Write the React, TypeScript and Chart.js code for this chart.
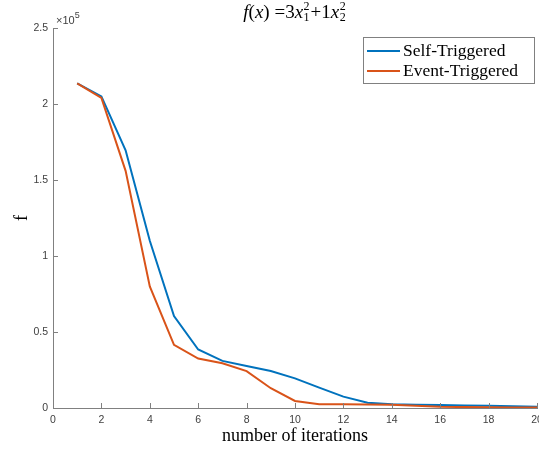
import React, { useEffect, useRef } from "react";
import { Chart, registerables } from "chart.js";

Chart.register(...registerables);

const iterations = [1, 2, 3, 4, 5, 6, 7, 8, 9, 10, 11, 12, 13, 14, 15, 16, 17, 18, 19, 20];
const selfTriggered = [213500, 205000, 169500, 110000, 60500, 38500, 31000, 27600, 24300, 19500, 13400, 7500, 3500, 2400, 2100, 1900, 1700, 1500, 1200, 900];
const eventTriggered = [213500, 204000, 156000, 80000, 41500, 32500, 29400, 24300, 13000, 4600, 2400, 2400, 2300, 2100, 1400, 800, 600, 500, 400, 300];
const xTicks = [0, 2, 4, 6, 8, 10, 12, 14, 16, 18, 20];
const yTicks = [0, 50000, 100000, 150000, 200000, 250000];
const seriesNames = ["Self-Triggered", "Event-Triggered"];
const seriesColors = ["#0072BD", "#D95319"];
const xTitle = "number of iterations";
const yTitle = "f";

const SERIF = '"Liberation Serif", "DejaVu Serif", serif';
const SANS = '"Liberation Sans", Arial, sans-serif';
const AXIS_COLOR = "#808080";
const TEXT_COLOR = "#404040";

type Seg = { t: string; italic?: boolean; sub?: string; sup?: string };

const titleSegs: Seg[] = [
  { t: "f", italic: true },
  { t: "(" },
  { t: "x", italic: true },
  { t: ") =3" },
  { t: "x", italic: true, sub: "1", sup: "2" },
  { t: "+1" },
  { t: "x", italic: true, sub: "2", sup: "2" },
];

function drawTitle(ctx: CanvasRenderingContext2D, cx: number, baseline: number) {
  const size = 19;
  const small = 12;
  const font = (it: boolean, s: number) => `${it ? "italic " : ""}${s}px ${SERIF}`;
  let total = 0;
  for (const s of titleSegs) {
    ctx.font = font(!!s.italic, size);
    total += ctx.measureText(s.t).width;
    if (s.sub || s.sup) {
      ctx.font = font(false, small);
      total += Math.max(ctx.measureText(s.sub || "").width, ctx.measureText(s.sup || "").width) + 1.5;
    }
  }
  let x = cx - total / 2;
  ctx.fillStyle = "#000";
  ctx.textBaseline = "alphabetic";
  ctx.textAlign = "left";
  for (const s of titleSegs) {
    ctx.font = font(!!s.italic, size);
    ctx.fillText(s.t, x, baseline);
    x += ctx.measureText(s.t).width;
    if (s.sub || s.sup) {
      ctx.font = font(false, small);
      if (s.sup) ctx.fillText(s.sup, x + 0.5, baseline - 8);
      if (s.sub) ctx.fillText(s.sub, x + 0.5, baseline + 3);
      x += Math.max(ctx.measureText(s.sub || "").width, ctx.measureText(s.sup || "").width) + 1.5;
    }
  }
}

const decorPlugin = {
  id: "decor",
  afterDraw(chart: any) {
    const ctx: CanvasRenderingContext2D = chart.ctx;
    const { left, right, top, bottom } = chart.chartArea;
    const xs = chart.scales.x;
    const ys = chart.scales.y;
    ctx.save();
    // inward ticks
    ctx.strokeStyle = AXIS_COLOR;
    ctx.lineWidth = 1;
    ctx.beginPath();
    for (const v of xTicks) {
      const px = Math.round(xs.getPixelForValue(v)) + 0.5;
      ctx.moveTo(px, bottom);
      ctx.lineTo(px, bottom - 5);
    }
    for (const v of yTicks) {
      const py = Math.round(ys.getPixelForValue(v)) + 0.5;
      ctx.moveTo(left, py);
      ctx.lineTo(left + 5, py);
    }
    ctx.stroke();

    // exponent label
    ctx.fillStyle = TEXT_COLOR;
    ctx.textAlign = "left";
    ctx.textBaseline = "alphabetic";
    ctx.font = `11px ${SANS}`;
    ctx.fillText("\u00d710", left + 3, top - 4);
    const w = ctx.measureText("\u00d710").width;
    ctx.font = `9px ${SANS}`;
    ctx.fillText("5", left + 3 + w, top - 10);

    // title
    drawTitle(ctx, (left + right) / 2, 18);

    // axis titles
    ctx.fillStyle = "#000";
    ctx.font = `18px ${SERIF}`;
    ctx.textAlign = "center";
    ctx.textBaseline = "alphabetic";
    ctx.fillText(xTitle, (left + right) / 2, 441);
    ctx.save();
    ctx.translate(27, (top + bottom) / 2);
    ctx.rotate(-Math.PI / 2);
    ctx.fillText(yTitle, 0, 0);
    ctx.restore();

    // legend
    const lx = 363, ly = 37, lw = 171, lh = 46;
    ctx.fillStyle = "#fff";
    ctx.fillRect(lx, ly, lw, lh);
    ctx.strokeStyle = AXIS_COLOR;
    ctx.lineWidth = 1;
    ctx.strokeRect(lx + 0.5, ly + 0.5, lw, lh);
    ctx.font = `17.5px ${SERIF}`;
    ctx.textAlign = "left";
    ctx.textBaseline = "middle";
    seriesNames.forEach((name, i) => {
      const cy = ly + 14 + i * 20;
      ctx.strokeStyle = seriesColors[i];
      ctx.lineWidth = 2;
      ctx.beginPath();
      ctx.moveTo(lx + 4, cy);
      ctx.lineTo(lx + 37, cy);
      ctx.stroke();
      ctx.fillStyle = "#000";
      ctx.fillText(name, lx + 40, cy);
    });
    ctx.restore();
  },
};

export default function App() {
  const ref = useRef<HTMLCanvasElement | null>(null);
  useEffect(() => {
    if (!ref.current) return;
    const chart = new Chart(ref.current, {
      type: "line",
      data: {
        datasets: [
          {
            label: seriesNames[0],
            data: iterations.map((x, i) => ({ x, y: selfTriggered[i] })),
            borderColor: seriesColors[0],
            backgroundColor: seriesColors[0],
            borderWidth: 2,
            pointRadius: 0,
            tension: 0,
            order: 1,
          },
          {
            label: seriesNames[1],
            data: iterations.map((x, i) => ({ x, y: eventTriggered[i] })),
            borderColor: seriesColors[1],
            backgroundColor: seriesColors[1],
            borderWidth: 2,
            pointRadius: 0,
            tension: 0,
            order: 0,
          },
        ],
      },
      options: {
        animation: false,
        responsive: false,
        devicePixelRatio: 1,
        layout: { padding: { top: 28, right: 2, left: 0, bottom: 0 } },
        plugins: { legend: { display: false }, tooltip: { enabled: false }, title: { display: false } },
        scales: {
          x: {
            type: "linear",
            min: 0,
            max: 20,
            afterBuildTicks: (s: any) => {
              s.ticks = xTicks.map((v) => ({ value: v }));
            },
            afterFit: (s: any) => {
              s.height = 41;
              s.paddingLeft = 0;
              s.paddingRight = 0;
            },
            ticks: {
              color: TEXT_COLOR,
              font: { family: SANS, size: 10.5 },
              padding: 6,
              maxRotation: 0,
              autoSkip: false,
            },
            grid: { drawOnChartArea: false, drawTicks: false },
            border: { display: true, color: AXIS_COLOR, width: 1 },
          },
          y: {
            type: "linear",
            min: 0,
            max: 250000,
            afterBuildTicks: (s: any) => {
              s.ticks = yTicks.map((v) => ({ value: v }));
            },
            afterFit: (s: any) => {
              s.width = 53;
              s.paddingTop = 0;
              s.paddingBottom = 0;
            },
            ticks: {
              color: TEXT_COLOR,
              font: { family: SANS, size: 10.5 },
              padding: 5,
              autoSkip: false,
              callback: (v: any) => String(Number(v) / 100000),
            },
            grid: { drawOnChartArea: false, drawTicks: false },
            border: { display: true, color: AXIS_COLOR, width: 1 },
          },
        },
      },
      plugins: [decorPlugin],
    } as any);
    return () => chart.destroy();
  }, []);
  return (
    <div style={{ position: "fixed", left: 0, top: 0, width: 539, height: 449, background: "#fff" }}>
      <canvas ref={ref} width={539} height={449} style={{ display: "block", width: 539, height: 449 }} />
    </div>
  );
}
